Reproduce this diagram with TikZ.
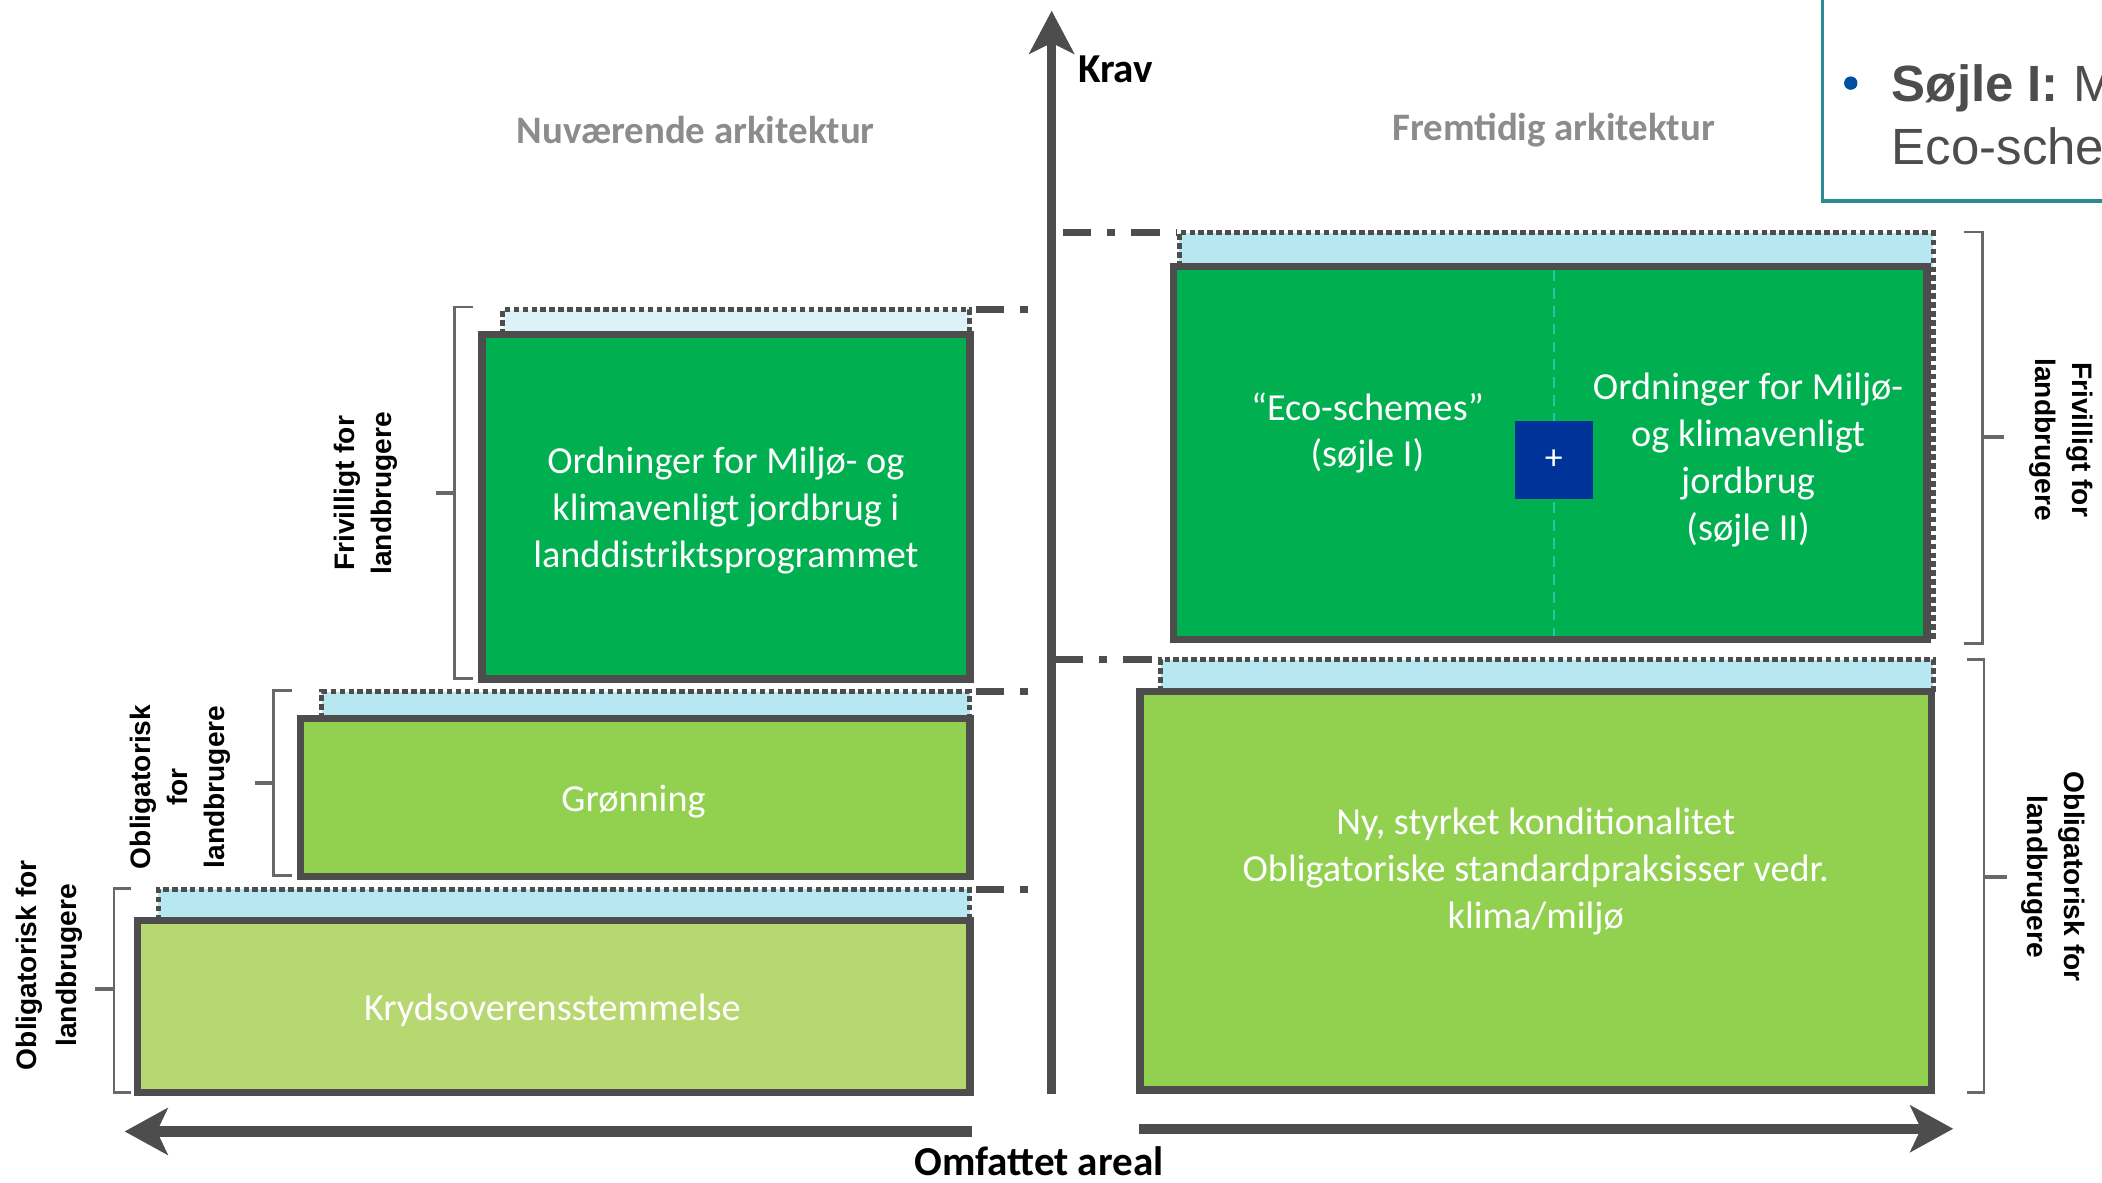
\documentclass[tikz,border=0pt]{standalone}
\usepackage{fontspec}
\setmainfont{Carlito}
\newfontfamily\arialfont{Liberation Sans}
\usetikzlibrary{arrows.meta}
\definecolor{dgreen}{HTML}{00AF50}
\definecolor{mgreen}{HTML}{92D050}
\definecolor{lgreen}{HTML}{B7D771}
\definecolor{stripblue}{HTML}{B7E8F2}
\definecolor{stripblue2}{HTML}{DCF2F8}
\definecolor{bgrey}{HTML}{4D4D4D}
\definecolor{hgrey}{HTML}{8C8C8C}
\definecolor{tealc}{HTML}{2A8C8E}
\definecolor{tealdash}{HTML}{2EC4A0}
\definecolor{sqblue}{HTML}{00339A}
\definecolor{bulblue}{HTML}{0050A0}
\begin{document}
\begin{tikzpicture}[x=0.75pt,y=-0.75pt,
  boxnode/.style={draw=bgrey, line width=4.1pt, inner sep=0pt, outer sep=0pt},
  dotline/.style={draw=bgrey, line width=2.8pt, dash pattern=on 3.1pt off 1.9pt},
  dashdotline/.style={draw=bgrey, line width=3.8pt, dash pattern=on 15.75pt off 9pt on 4.5pt off 9pt},
  bracketline/.style={draw=bgrey!85, line width=1.5pt},
  tickline/.style={draw=bgrey!85, line width=2.4pt},
  boxtext/.style={text=white, align=center, inner sep=0pt, font=\fontsize{21.4}{26.25}\selectfont},
  hdr/.style={text=hgrey, font=\bfseries\fontsize{21.75}{26}\selectfont, inner sep=0pt},
  axlabel/.style={text=black, font=\bfseries\fontsize{23}{27}\selectfont, inner sep=0pt},
  sidelabel/.style={text=black, align=center, inner sep=0pt, font=\arialfont\bfseries\fontsize{15.75}{21}\selectfont},
  axisline/.style={draw=bgrey, line width=5.25pt},
  tipstyle/.style={-{Stealth[length=24pt,width=25pt,inset=6pt]}}
]
\useasboundingbox (0,0) rectangle (1568,882);
\clip (0,0) rectangle (1568,882);
\fill[white] (0,0) rectangle (1568,882);

% ---------------- headers
\node[hdr] (hnow) at (519,97) {Nuværende arkitektur};
\node[hdr] (hfut) at (1159,97) {Fremtidig arkitektur};

% ---------------- top right text box (cut off)
\draw[tealc, line width=1.9pt] (1359.5,-20) -- (1359.5,150) -- (1620,150);
\node[circle, fill=bulblue, minimum size=7.5pt, inner sep=0pt] (bul) at (1380.6,62) {};
\node[anchor=base west, inner sep=0pt, text=bgrey, font=\arialfont\fontsize{28.5}{34}\selectfont] (s1) at (1411,75.8) {\textbf{Søjle I:} M};
\node[anchor=base west, inner sep=0pt, text=bgrey, font=\arialfont\fontsize{28.5}{34}\selectfont] (s2) at (1411,123) {Eco-schemes};

% ---------------- left strips
\fill[stripblue2] (375,231) rectangle (723.5,249.5);
\draw[dotline] (375,249.5) -- (375,231) -- (723.5,231) -- (723.5,249.5);
\fill[stripblue] (240,516) rectangle (723.5,536);
\draw[dotline] (240,536) -- (240,516) -- (723.5,516) -- (723.5,536);
\fill[stripblue] (118,663.5) rectangle (723.5,686.5);
\draw[dotline] (118,686.5) -- (118,663.5) -- (723.5,663.5) -- (723.5,686.5);

% ---------------- right strips
\fill[stripblue] (879.5,173.5) rectangle (1442,199);
\draw[dotline] (879.5,199) -- (879.5,173.5) -- (1442,173.5) -- (1442,478);
\fill[stripblue] (866,492) rectangle (1442,516);
\draw[dotline] (866,516) -- (866,492) -- (1442,492) -- (1442,516);

% ---------------- left boxes
\node[boxnode, fill=dgreen, minimum width=273pt, minimum height=192.75pt] (b1) at (541.5,378) {};
\node[boxnode, fill=mgreen, minimum width=374.6pt, minimum height=88.5pt] (b2) at (473.75,595) {};
\node[boxnode, fill=lgreen, minimum width=465.75pt, minimum height=96.4pt] (b3) at (413,750.75) {};

% ---------------- right boxes
\node[boxnode, fill=dgreen, minimum width=421.5pt, minimum height=208.5pt] (b4) at (1156.5,338) {};
\node[boxnode, fill=mgreen, minimum width=442.9pt, minimum height=222.75pt] (b5) at (1145.75,664.5) {};

% divider and plus square
\coordinate (divtop) at (1159,201.5);
\coordinate (divbot) at (1159,474.5);
\draw[tealdash, line width=1.1pt, dash pattern=on 6pt off 4pt] (divtop) -- (divbot);
\node[fill=sqblue, minimum size=43.5pt, inner sep=0pt, text=white, font=\fontsize{20}{24}\selectfont] (plus) at (1159,343) {+};

% ---------------- box texts
\node[boxtext] (t1) at (541.5,381) {Ordninger for Miljø- og\\klimavenligt jordbrug i\\landdistriktsprogrammet};
\node[boxtext] (t2) at (472.6,598) {Grønning};
\node[boxtext] (t3) at (412,754) {Krydsoverensstemmelse};
\node[boxtext] (t4) at (1020,323) {“Eco-schemes”\\(søjle I)};
\node[boxtext] (t5) at (1304,343) {Ordninger for Miljø-\\og klimavenligt\\jordbrug\\(søjle II)};
\node[boxtext] (t6) at (1145.6,650) {Ny, styrket konditionalitet\\Obligatoriske standardpraksisser vedr.\\klima/miljø};

% ---------------- dash-dot level lines
\coordinate (d1a) at (728,231);   \coordinate (d1b) at (768,231);
\coordinate (d2a) at (728,516);   \coordinate (d2b) at (768,516);
\coordinate (d3a) at (728,663.5); \coordinate (d3b) at (768,663.5);
\coordinate (d4a) at (793,173.5); \coordinate (d4b) at (878,173.5);
\coordinate (d5a) at (787,492);   \coordinate (d5b) at (865,492);
\draw[dashdotline] (d1a) -- (d1b);
\draw[dashdotline] (d2a) -- (d2b);
\draw[dashdotline] (d3a) -- (d3b);
\draw[dashdotline] (d4a) -- (d4b);
\draw[dashdotline] (d5a) -- (d5b);

% ---------------- axes
\coordinate (axbot) at (784.5,816);
\coordinate (axtop) at (784.5,8);
\draw[axisline, tipstyle] (axbot) -- (axtop);
\coordinate (larrR) at (725,844);
\coordinate (larrL) at (93,844);
\draw[axisline, line width=5.8pt, -{Stealth[length=24pt,width=26pt,inset=6pt]}] (larrR) -- (larrL);
\coordinate (rarrL) at (850,842);
\coordinate (rarrR) at (1457,842);
\draw[axisline, line width=5.8pt, -{Stealth[length=24pt,width=26pt,inset=6pt]}] (rarrL) -- (rarrR);
\node[axlabel, anchor=west] (krav) at (804,52) {Krav};
\node[axlabel] (areal) at (775,866) {Omfattet areal};

% ---------------- brackets
\draw[bracketline] (353,229) -- (339,229) -- (339,506) -- (353,506);
\draw[tickline] (339,368) -- (325,368);
\draw[bracketline] (218,515) -- (204,515) -- (204,653) -- (218,653);
\draw[tickline] (204,584) -- (190,584);
\draw[bracketline] (98,663) -- (85,663) -- (85,815) -- (98,815);
\draw[tickline] (85,738) -- (71,738);
\draw[bracketline] (1465,173) -- (1479,173) -- (1479,480) -- (1465,480);
\draw[tickline] (1479,326) -- (1495,326);
\draw[bracketline] (1467,492) -- (1480,492) -- (1480,815) -- (1467,815);
\draw[tickline] (1480,654) -- (1497,654);

% ---------------- bracket labels
\node[sidelabel, rotate=90] (l1) at (273,368) {Frivilligt for\\landbrugere};
\node[sidelabel, rotate=90, font=\arialfont\bfseries\fontsize{15.75}{20.6}\selectfont] (l2) at (134.5,587) {Obligatorisk\\for\\landbrugere};
\node[sidelabel, rotate=90, font=\arialfont\bfseries\fontsize{15.75}{22.5}\selectfont] (l3) at (37,720) {Obligatorisk for\\landbrugere};
\node[sidelabel, rotate=-90] (l4) at (1537.5,328) {Frivilligt for\\landbrugere};
\node[sidelabel, rotate=-90] (l5) at (1531.5,654) {Obligatorisk for\\landbrugere};
\end{tikzpicture}
\end{document}
